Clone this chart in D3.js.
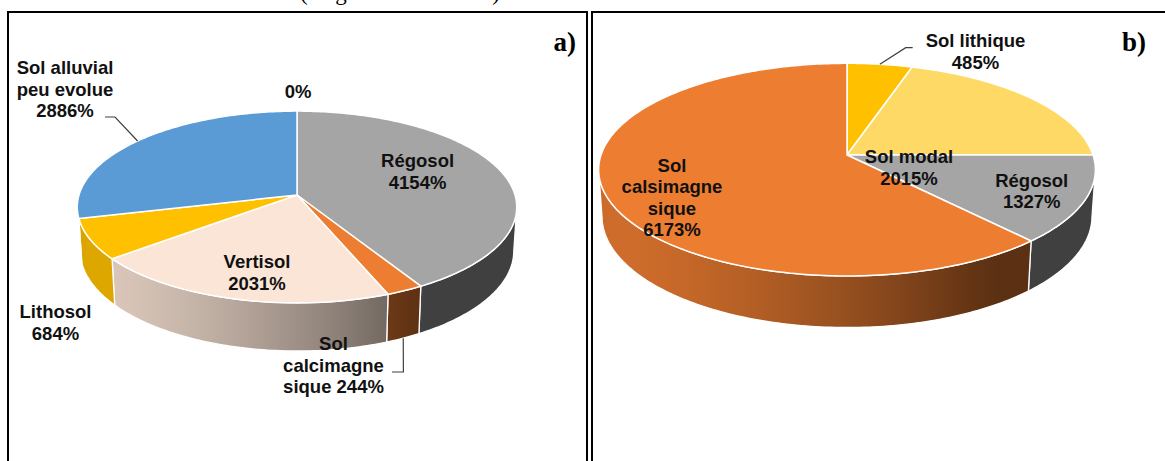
<!DOCTYPE html>
<html>
<head>
<meta charset="utf-8">
<script src="https://cdn.jsdelivr.net/npm/d3@7"></script>
<style>
  html, body { margin: 0; padding: 0; background: #fff; }
  svg { display: block; }
</style>
</head>
<body>
<svg id="chart" width="1165" height="461"></svg>
<script>
// ---- Data: soil classes (percent of area) ----
const categoriesA = ["Régosol", "Sol calcimagnesique", "Vertisol", "Lithosol", "Sol alluvial peu evolue", "Autre"];
const valuesA = [41.54, 2.44, 20.31, 6.84, 28.86, 0];
const labelTextA = ["Régosol\n{v}", "Sol\ncalcimagne\nsique {v}", "Vertisol\n{v}", "Lithosol\n{v}", "Sol alluvial\npeu evolue\n{v}", "{v}"];

const categoriesB = ["Sol lithique", "Sol modal", "Régosol", "Sol calsimagnesique"];
const valuesB = [4.85, 20.15, 13.27, 61.73];
const labelTextB = ["Sol lithique\n{v}", "Sol modal\n{v}", "Régosol\n{v}", "Sol\ncalsimagne\nsique\n{v}"];

// ---- Styles ----
const colorsA = ["#a5a5a5", "#ed7d31", "#fbe5d6", "#ffc000", "#5b9bd5", "#70ad47"];
const colorsB = ["#ffc000", "#ffd966", "#a5a5a5", "#ed7d31"];

// label placement: offset of first baseline from pie centre
const labelPosA = [[120.6, -28], [36.5, 155], [-40, 73], [-241.5, 123], [-232, -121], [1, -97]];
const labelPosB = [[128.5, -108], [62, 8.3], [184.7, 31.7], [-175, 16.7]];
// leader lines: two points near the label, then to the slice edge (top rim or wall bottom)
const leadersA = [
  { i: 4, pts: [[-192, -78], [-182, -78]], edge: "top" },
  { i: 1, pts: [[95, 177], [106.4, 177]], edge: "bottom" }
];
const leadersB = [
  { i: 0, pts: [[65.7, -107.3], [58.7, -107.3]], edge: "top" }
];

const fmt = v => (v === 0 ? "0" : String(Math.round(v * 100))) + "%";

const svg = d3.select("#chart");
const defs = svg.append("defs");

// caption above the panels (clipped by the page top)
svg.append("text")
  .attr("x", 300).attr("y", 0)
  .attr("font-family", "'Liberation Serif', 'Times New Roman', serif")
  .attr("font-size", 23)
  .attr("textLength", 200).attr("lengthAdjust", "spacing")
  .attr("fill", "#000")
  .text("(Figure 15 et 16)");

// panel frames
svg.append("rect").attr("x", 8).attr("y", 12).attr("width", 579).attr("height", 480)
  .attr("fill", "none").attr("stroke", "#000").attr("stroke-width", 2);
svg.append("rect").attr("x", 592).attr("y", 12).attr("width", 600).attr("height", 480)
  .attr("fill", "none").attr("stroke", "#000").attr("stroke-width", 2);

svg.append("text").attr("x", 576).attr("y", 51).attr("text-anchor", "end")
  .attr("font-family", "'Liberation Serif', 'Times New Roman', serif")
  .attr("font-weight", "bold").attr("font-size", 27).text("a)");
svg.append("text").attr("x", 1146).attr("y", 51).attr("text-anchor", "end")
  .attr("font-family", "'Liberation Serif', 'Times New Roman', serif")
  .attr("font-weight", "bold").attr("font-size", 27).text("b)");

function drawPie(id, cfg, categories, values, colors, labelText, labelPos, leaders) {
  const g = svg.append("g");
  const se = Math.sin(cfg.elev), ce = Math.cos(cfg.elev);
  const color = d3.scaleOrdinal(categories, colors);

  // perspective projection of a point on the disc (theta clockwise from 12 o'clock)
  const proj = (theta, r, Y) => {
    const X = r * Math.sin(theta), Z = -r * Math.cos(theta);
    const w = Z * ce + Y * se;
    const sc = 1 / (1 - w / cfg.D);
    return [cfg.cx + cfg.k * X * sc, cfg.cy + cfg.k * (Z * se - Y * ce) * sc];
  };
  const arcPts = (a0, a1, Y) => {
    const n = Math.max(2, Math.ceil(Math.abs(a1 - a0) / (Math.PI / 180)));
    return d3.range(n + 1).map(j => proj(a0 + (a1 - a0) * j / n, 1, Y));
  };
  const line = d3.line().curve(d3.curveLinear);

  const arcs = d3.pie().sort(null).value(d => d.value)
    .startAngle(0).endAngle(2 * Math.PI)(categories.map((c, i) => ({ cat: c, value: values[i], i })));

  // visible part of the outer wall
  const z0 = 0.85 / (cfg.D * ce);
  const thR = Math.acos(-z0), thL = 2 * Math.PI - thR;
  const t = cfg.t;
  const shade = th => 0.39 + 0.48 * Math.max(0, Math.cos(th - 240 * Math.PI / 180));
  const xL = proj(thL, 1, -t / 2)[0], xR = proj(thR, 1, -t / 2)[0];

  arcs.forEach(a => {
    const lo = Math.max(a.startAngle, thR), hi = Math.min(a.endAngle, thL);
    if (a.value <= 0 || lo >= hi) return;
    const gid = id + "-wall-" + a.index;
    const grad = defs.append("linearGradient").attr("id", gid)
      .attr("gradientUnits", "userSpaceOnUse")
      .attr("x1", xL).attr("x2", xR).attr("y1", 0).attr("y2", 0);
    const base = d3.rgb(color(a.data.cat));
    d3.range(31).forEach(j => {
      const th = thL - (thL - thR) * j / 30;
      const x = proj(th, 1, -t / 2)[0];
      const f = shade(th);
      grad.append("stop").attr("offset", (x - xL) / (xR - xL))
        .attr("stop-color", d3.rgb(base.r * f, base.g * f, base.b * f).formatHex());
    });
    const pts = arcPts(lo, hi, 0).concat(arcPts(hi, lo, -t));
    g.append("path").attr("d", line(pts) + "Z")
      .attr("fill", `url(#${gid})`)
      .attr("stroke", "#fff").attr("stroke-width", 1.3).attr("stroke-linejoin", "round");
  });

  // top faces
  arcs.forEach(a => {
    if (a.value <= 0) return;
    const pts = [[cfg.cx, cfg.cy]].concat(arcPts(a.startAngle, a.endAngle, 0));
    g.append("path").attr("d", line(pts) + "Z")
      .attr("fill", color(a.data.cat))
      .attr("stroke", "#fff").attr("stroke-width", 1.5).attr("stroke-linejoin", "round");
  });

  // leader lines
  leaders.forEach(l => {
    const a = arcs[l.i];
    const mid = (a.startAngle + a.endAngle) / 2;
    const end = proj(mid, 1, l.edge === "top" ? 0 : -t);
    const pts = l.pts.map(p => [cfg.cx + p[0], cfg.cy + p[1]]).concat([end]);
    g.append("path").attr("d", line(pts))
      .attr("fill", "none").attr("stroke", "#404040").attr("stroke-width", 1.2);
  });

  // data labels
  arcs.forEach((a, i) => {
    const lines = labelText[i].replace("{v}", fmt(a.value)).split("\n");
    const txt = g.append("text")
      .attr("text-anchor", "middle")
      .attr("font-family", "'Liberation Sans', Arial, sans-serif")
      .attr("font-weight", "bold").attr("font-size", 18.5)
      .attr("fill", "#111");
    lines.forEach((s, j) => {
      txt.append("tspan").attr("x", cfg.cx + labelPos[i][0])
        .attr("y", cfg.cy + labelPos[i][1] + j * 21.5).text(s);
    });
  });
}

drawPie("pa", { cx: 297, cy: 195, k: 218, elev: Math.asin(0.433), D: 7.21, t: 0.225 },
  categoriesA, valuesA, colorsA, labelTextA, labelPosA, leadersA);
drawPie("pb", { cx: 847, cy: 155, k: 246, elev: Math.asin(0.424), D: 6.573, t: 0.21 },
  categoriesB, valuesB, colorsB, labelTextB, labelPosB, leadersB);
</script>
</body>
</html>
